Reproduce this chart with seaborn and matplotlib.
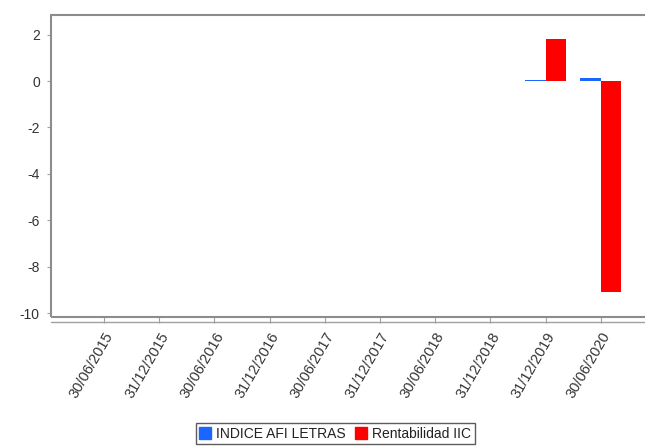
import matplotlib
matplotlib.use('Agg')
import matplotlib.pyplot as plt
from matplotlib.patches import Rectangle
from matplotlib.lines import Line2D
import seaborn as sns
import pandas as pd

fechas = ['30/06/2015', '31/12/2015', '30/06/2016', '31/12/2016', '30/06/2017',
          '31/12/2017', '30/06/2018', '31/12/2018', '31/12/2019', '30/06/2020']
indice_afi = [0, 0, 0, 0, 0, 0, 0, 0, 0.05, 0.12]
rentabilidad = [0, 0, 0, 0, 0, 0, 0, 0, 1.8, -9.1]
series = ['INDICE AFI LETRAS', 'Rentabilidad IIC']
colores = ['#1a66ff', '#ff0000']

df = pd.DataFrame({
    'fecha': fechas * 2,
    'valor': indice_afi + rentabilidad,
    'serie': [series[0]] * len(fechas) + [series[1]] * len(fechas),
})

sns.set_style('white')
plt.rcParams['font.family'] = ['Liberation Sans', 'DejaVu Sans']
plt.rcParams['axes.unicode_minus'] = False

fig = plt.figure(figsize=(6.45, 4.46), dpi=100)
ax = fig.add_axes([0.079, 0.289, 0.938, 0.677])

sns.barplot(data=df, x='fecha', y='valor', hue='serie', order=fechas,
            hue_order=series, palette=colores, saturation=1, width=0.75,
            linewidth=0, ax=ax, legend=False)

ax.set_xlim(-0.96, 10.0)
ax.set_ylim(-10.17, 2.84)
ax.set_yticks([2, 0, -2, -4, -6, -8, -10])
ax.set_xlabel('')
ax.set_ylabel('')

for s in ax.spines.values():
    s.set_visible(False)
ax.add_patch(Rectangle((0, 0), 1, 1, transform=ax.transAxes, fill=False,
                       edgecolor='#8c8c8c', linewidth=1.5, clip_on=False, zorder=5))
# x axis line drawn a bit below the frame
ax.plot([0, 1], [-0.017, -0.017], transform=ax.transAxes, color='#a0a0a0',
        linewidth=1, clip_on=False)

ax.tick_params(axis='x', direction='out', length=4, color='#a0a0a0', pad=5,
               labelsize=10.5, labelcolor='#333333')
ax.tick_params(axis='y', direction='out', length=3, color='#a0a0a0', pad=5,
               labelsize=10, labelcolor='#333333', left=True)
ax.tick_params(axis='x', bottom=True)
plt.setp(ax.get_xticklabels(), rotation=60, ha='right', rotation_mode='anchor')

handles = [Line2D([], [], marker='s', linestyle='', markersize=8,
                  markerfacecolor=c, markeredgecolor=c) for c in colores]
leg = fig.legend(handles, series, loc='lower center', bbox_to_anchor=(0.52, -0.012),
                 ncol=2, frameon=True, fontsize=10, handlelength=0.8,
                 handletextpad=0.4, columnspacing=0.7, borderpad=0.25,
                 fancybox=False)
leg.get_frame().set_edgecolor('#333333')
leg.get_frame().set_linewidth(1)
for t in leg.get_texts():
    t.set_color('#222222')

fig.savefig('out.png', dpi=100)
